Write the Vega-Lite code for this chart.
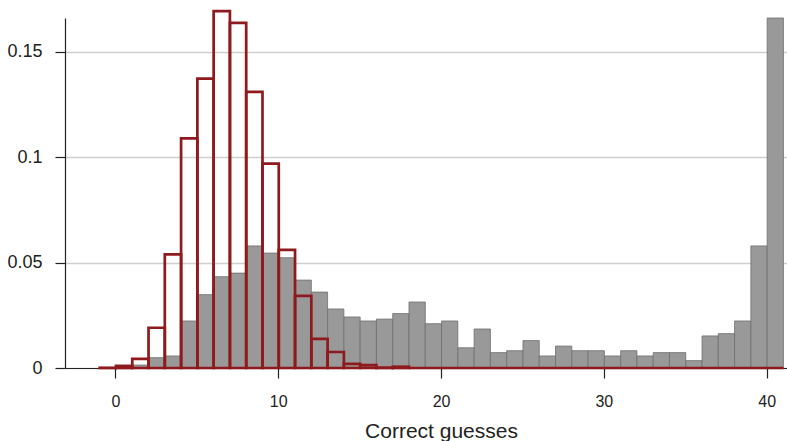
{
  "$schema": "https://vega.github.io/schema/vega-lite/v6.json",
  "width": 722,
  "height": 350,
  "autosize": "none",
  "padding": {"left": 65, "top": 18, "right": 0, "bottom": 73},
  "background": "white",
  "config": {
    "view": {"stroke": null},
    "font": "Liberation Sans",
    "axis": {"labelColor": "#222222", "titleColor": "#222222", "domainColor": "#222222", "tickColor": "#222222", "tickSize": 10, "domainWidth": 1.2, "tickWidth": 1.2}
  },
  "datasets": {
    "observed": [
      {"k": 0, "share": 0.0003},
      {"k": 1, "share": 0.0014},
      {"k": 2, "share": 0.0049},
      {"k": 3, "share": 0.0057},
      {"k": 4, "share": 0.0223},
      {"k": 5, "share": 0.0348},
      {"k": 6, "share": 0.0433},
      {"k": 7, "share": 0.0450},
      {"k": 8, "share": 0.0579},
      {"k": 9, "share": 0.0545},
      {"k": 10, "share": 0.0523},
      {"k": 11, "share": 0.0417},
      {"k": 12, "share": 0.0360},
      {"k": 13, "share": 0.0280},
      {"k": 14, "share": 0.0242},
      {"k": 15, "share": 0.0223},
      {"k": 16, "share": 0.0232},
      {"k": 17, "share": 0.0258},
      {"k": 18, "share": 0.0313},
      {"k": 19, "share": 0.0210},
      {"k": 20, "share": 0.0223},
      {"k": 21, "share": 0.0096},
      {"k": 22, "share": 0.0185},
      {"k": 23, "share": 0.0073},
      {"k": 24, "share": 0.0082},
      {"k": 25, "share": 0.0130},
      {"k": 26, "share": 0.0057},
      {"k": 27, "share": 0.0104},
      {"k": 28, "share": 0.0082},
      {"k": 29, "share": 0.0082},
      {"k": 30, "share": 0.0057},
      {"k": 31, "share": 0.0082},
      {"k": 32, "share": 0.0057},
      {"k": 33, "share": 0.0073},
      {"k": 34, "share": 0.0073},
      {"k": 35, "share": 0.0035},
      {"k": 36, "share": 0.0152},
      {"k": 37, "share": 0.0163},
      {"k": 38, "share": 0.0223},
      {"k": 39, "share": 0.0579},
      {"k": 40, "share": 0.1660}
    ],
    "expected": [
      {"k": -1, "p": 0.0001},
      {"k": 0, "p": 0.0010},
      {"k": 1, "p": 0.0043},
      {"k": 2, "p": 0.0191},
      {"k": 3, "p": 0.0539},
      {"k": 4, "p": 0.1089},
      {"k": 5, "p": 0.1372},
      {"k": 6, "p": 0.1693},
      {"k": 7, "p": 0.1637},
      {"k": 8, "p": 0.1310},
      {"k": 9, "p": 0.0969},
      {"k": 10, "p": 0.0560},
      {"k": 11, "p": 0.0342},
      {"k": 12, "p": 0.0138},
      {"k": 13, "p": 0.0076},
      {"k": 14, "p": 0.0020},
      {"k": 15, "p": 0.0014},
      {"k": 16, "p": 0.0002},
      {"k": 17, "p": 0.0006},
      {"k": 18, "p": 0},
      {"k": 19, "p": 0},
      {"k": 20, "p": 0},
      {"k": 21, "p": 0},
      {"k": 22, "p": 0},
      {"k": 23, "p": 0},
      {"k": 24, "p": 0},
      {"k": 25, "p": 0},
      {"k": 26, "p": 0},
      {"k": 27, "p": 0},
      {"k": 28, "p": 0},
      {"k": 29, "p": 0},
      {"k": 30, "p": 0},
      {"k": 31, "p": 0},
      {"k": 32, "p": 0},
      {"k": 33, "p": 0},
      {"k": 34, "p": 0},
      {"k": 35, "p": 0},
      {"k": 36, "p": 0},
      {"k": 37, "p": 0},
      {"k": 38, "p": 0},
      {"k": 39, "p": 0},
      {"k": 40, "p": 0}
    ]
  },
  "layer": [
    {
      "data": {"name": "observed"},
      "mark": {"type": "bar", "fill": "#999999", "stroke": "#6e6e6e", "strokeWidth": 0.8, "binSpacing": 0},
      "encoding": {
        "x": {
          "field": "k", "type": "quantitative", "bin": {"binned": true, "step": 1},
          "scale": {"domain": [-3.1, 41.25], "nice": false, "zero": false},
          "axis": {
            "values": [0, 10, 20, 30, 40], "grid": false, "format": "d",
            "labelFontSize": 16, "labelPadding": 15,
            "title": "Correct guesses", "titleFontSize": 21, "titleFontWeight": "normal",
            "titleX": 376, "titleY": 69, "titleBaseline": "alphabetic", "titleAlign": "center"
          }
        },
        "y": {
          "field": "share", "type": "quantitative",
          "scale": {"domain": [0, 0.166], "nice": false},
          "axis": {
            "values": [0, 0.05, 0.1, 0.15], "format": "~g", "title": null,
            "grid": true, "gridColor": "#cfcfcf", "gridWidth": 1.4,
            "labelFontSize": 18, "labelPadding": 13
          }
        }
      }
    },
    {
      "data": {"name": "expected"},
      "mark": {"type": "bar", "fill": null, "fillOpacity": 0, "stroke": "#8e1a1e", "strokeWidth": 2.7, "binSpacing": 0, "clip": false},
      "encoding": {
        "x": {"field": "k", "type": "quantitative", "bin": {"binned": true, "step": 1}},
        "y": {"field": "p", "type": "quantitative"}
      }
    }
  ]
}
